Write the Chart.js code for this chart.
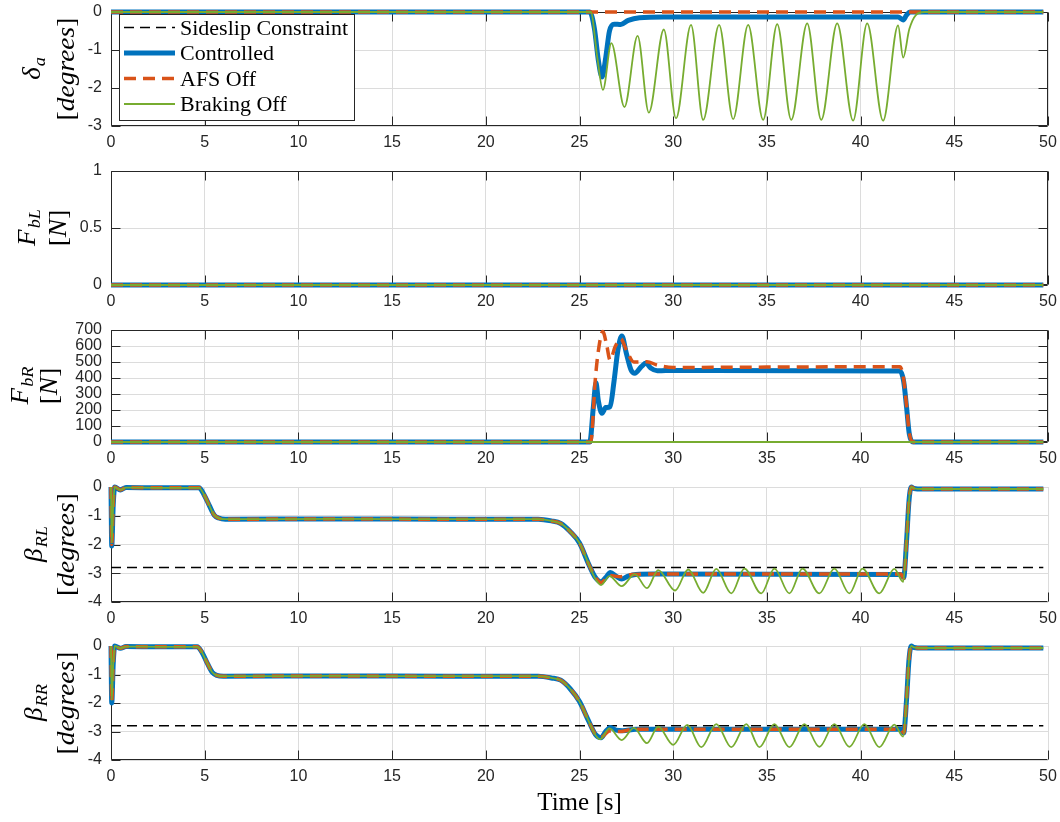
<!DOCTYPE html>
<html><head><meta charset="utf-8">
<script src="https://cdn.jsdelivr.net/npm/chart.js@4.4.1/dist/chart.umd.min.js"></script>
<style>
html,body{margin:0;padding:0;background:#fff;}
#wrap{position:relative;width:1060px;height:822px;overflow:hidden;background:#fff}
canvas{position:absolute;left:0}
</style></head><body><div id="wrap">
<canvas id="c1" width="1060" height="157" style="top:2px"></canvas>
<canvas id="c2" width="1060" height="157" style="top:161px"></canvas>
<canvas id="c3" width="1060" height="155" style="top:320px"></canvas>
<canvas id="c4" width="1060" height="158" style="top:477px"></canvas>
<canvas id="c5" width="1060" height="186" style="top:636px"></canvas>
</div>
<script>
// ---------- tick values ----------
const xTicks = [0,5,10,15,20,25,30,35,40,45,50];
const yTicksDelta = [-3,-2,-1,0];
const yTicksFbL = [0,0.5,1];
const yTicksFbR = [0,100,200,300,400,500,600,700];
const yTicksBeta = [-4,-3,-2,-1,0];

// ---------- series labels ----------
const seriesLabels = ['Sideslip Constraint','Controlled','AFS Off','Braking Off'];

// ---------- subplot 1: delta_a [degrees] ----------
const tDeltaCtrl = [0,25.55,25.8,26.0,26.2,26.4,26.6,26.85,27.2,27.6,28.2,29.5,42.0,42.27,42.45,42.65,49.75];
const deltaCtrl  = [0,0,-0.45,-1.25,-1.71,-1.2,-0.5,-0.32,-0.33,-0.22,-0.15,-0.13,-0.13,-0.21,-0.08,0,0];
const tDeltaAfs = [0,49.75];
const deltaAfs  = [0,0];
const tDeltaBrk = [0,25.6,25.95,26.25,26.7,27.4,28.1,28.7,29.5,30.15,30.95,31.6,32.45,33.2,34.0,34.8,35.55,36.3,37.15,37.9,38.75,39.6,40.35,41.2,42.0,42.27,42.6,42.95,43.4,49.75];
const deltaBrk  = [0,0,-1.2,-2.05,-0.82,-2.5,-0.63,-2.65,-0.46,-2.8,-0.34,-2.84,-0.34,-2.82,-0.34,-2.84,-0.32,-2.84,-0.3,-2.84,-0.3,-2.86,-0.3,-2.86,-0.35,-1.2,-0.45,-0.08,0,0];

// ---------- subplot 2: F_bL [N] ----------
const tFbL = [0,49.75];
const fbLCtrl = [0,0];
const fbLAfs  = [0,0];
const fbLBrk  = [0,0];

// ---------- subplot 3: F_bR [N] ----------
const tFbRCtrl = [0,25.55,25.74,25.88,26.0,26.2,26.4,26.63,26.85,27.05,27.26,27.5,27.75,27.95,28.3,28.55,28.8,29.15,29.6,42.1,42.3,42.45,42.6,42.8,49.75];
const fbRCtrl  = [0,0,220,370,262,180,215,220,387,575,662,554,450,430,471,493,462,445,447,443,377,220,50,0,0];
const tFbRAfs = [0,25.6,25.84,26.0,26.24,26.45,26.63,26.9,27.2,27.5,27.9,28.6,29.15,30.0,35.0,42.1,42.3,42.45,42.6,42.8,49.75];
const fbRAfs  = [0,0,387,564,690,606,512,595,645,575,500,502,481,466,468,471,390,230,55,0,0];
const tFbRBrk = [0,49.75];
const fbRBrk  = [0,0];

// ---------- subplot 4: beta_RL [degrees] ----------
const tBetaRLCtrl = [0,0.04,0.12,0.2,0.5,0.8,2.5,4.7,4.95,5.25,5.5,5.75,6.1,12,18,22.8,23.5,24.0,24.5,25.0,25.5,25.85,26.15,26.4,26.65,26.95,27.25,27.6,28.0,29.0,42.15,42.3,42.45,42.58,42.7,42.85,43.3,49.75];
const betaRLCtrl  = [0,-2.05,-0.6,0,-0.1,-0.02,-0.03,-0.03,-0.25,-0.65,-0.97,-1.08,-1.12,-1.11,-1.12,-1.12,-1.18,-1.27,-1.55,-1.95,-2.7,-3.15,-3.3,-3.15,-2.97,-3.1,-3.2,-3.1,-3.04,-3.03,-3.04,-3.15,-1.9,-0.5,0,-0.05,-0.07,-0.07];
const tBetaRLAfs = [0,0.04,0.12,0.2,0.5,0.8,2.5,4.7,4.95,5.25,5.5,5.75,6.1,12,18,22.8,23.5,24.0,24.5,25.0,25.5,25.85,26.15,26.6,27.2,27.8,29.0,42.15,42.3,42.45,42.58,42.7,42.85,43.3,49.75];
const betaRLAfs  = [0,-2.0,-0.6,0,-0.1,-0.02,-0.03,-0.03,-0.25,-0.65,-0.97,-1.08,-1.12,-1.11,-1.12,-1.12,-1.18,-1.27,-1.55,-1.95,-2.7,-3.15,-3.32,-3.08,-3.12,-3.04,-3.03,-3.03,-3.18,-1.9,-0.5,0,-0.05,-0.07,-0.07];
const tBetaRLBrk = [0,0.04,0.12,0.2,0.5,0.8,2.5,4.7,4.95,5.25,5.5,5.75,6.1,12,18,22.8,23.5,24.0,24.5,25.0,25.5,25.85,26.15,26.6,27.25,27.95,28.6,29.2,30.1,30.8,31.6,32.3,33.1,33.8,34.7,35.4,36.2,36.9,37.8,38.6,39.4,40.1,41.0,41.8,42.27,42.45,42.58,42.7,42.85,43.3,49.75];
const betaRLBrk  = [0,-1.95,-0.6,0,-0.1,-0.02,-0.03,-0.03,-0.25,-0.65,-0.97,-1.08,-1.12,-1.11,-1.12,-1.12,-1.18,-1.27,-1.55,-1.95,-2.7,-3.2,-3.41,-3.1,-3.45,-3.03,-3.52,-2.89,-3.6,-2.87,-3.68,-2.85,-3.7,-2.84,-3.7,-2.84,-3.7,-2.84,-3.7,-2.84,-3.7,-2.84,-3.7,-2.85,-3.3,-1.9,-0.5,0,-0.05,-0.07,-0.07];

// ---------- subplot 5: beta_RR [degrees] ----------
const tBetaRRCtrl = [0,0.04,0.12,0.2,0.5,0.8,2.5,4.6,4.85,5.15,5.4,5.65,6.0,12,18,22.8,23.5,24.0,24.5,25.0,25.5,25.85,26.15,26.4,26.65,26.95,27.3,28.0,29.0,42.15,42.3,42.45,42.58,42.7,42.85,43.3,49.75];
const betaRRCtrl  = [0,-2.0,-0.6,0,-0.08,-0.02,-0.03,-0.03,-0.22,-0.62,-0.92,-1.03,-1.06,-1.05,-1.06,-1.06,-1.12,-1.2,-1.5,-1.95,-2.65,-3.1,-3.22,-3.0,-2.86,-2.95,-2.97,-2.92,-2.92,-2.92,-3.05,-1.9,-0.5,0,-0.05,-0.07,-0.07];
const tBetaRRAfs = [0,0.04,0.12,0.2,0.5,0.8,2.5,4.6,4.85,5.15,5.4,5.65,6.0,12,18,22.8,23.5,24.0,24.5,25.0,25.5,25.85,26.15,26.6,27.2,27.8,29.0,42.15,42.3,42.45,42.58,42.7,42.85,43.3,49.75];
const betaRRAfs  = [0,-1.95,-0.6,0,-0.08,-0.02,-0.03,-0.03,-0.22,-0.62,-0.92,-1.03,-1.06,-1.05,-1.06,-1.06,-1.12,-1.2,-1.5,-1.95,-2.65,-3.1,-3.2,-2.98,-3.0,-2.93,-2.92,-2.92,-3.05,-1.9,-0.5,0,-0.05,-0.07,-0.07];
const tBetaRRBrk = [0,0.04,0.12,0.2,0.5,0.8,2.5,4.6,4.85,5.15,5.4,5.65,6.0,12,18,22.8,23.5,24.0,24.5,25.0,25.5,25.85,26.1,26.6,27.25,27.9,28.6,29.2,30.0,30.75,31.5,32.3,33.1,33.9,34.6,35.4,36.2,37.0,37.8,38.6,39.4,40.2,41.0,41.8,42.27,42.45,42.58,42.7,42.85,43.3,49.75];
const betaRRBrk  = [0,-1.9,-0.6,0,-0.08,-0.02,-0.03,-0.03,-0.22,-0.62,-0.92,-1.03,-1.06,-1.05,-1.06,-1.06,-1.12,-1.2,-1.5,-1.95,-2.65,-3.12,-3.27,-2.89,-3.3,-2.87,-3.41,-2.83,-3.47,-2.77,-3.55,-2.74,-3.55,-2.74,-3.55,-2.74,-3.55,-2.74,-3.54,-2.74,-3.54,-2.74,-3.55,-2.76,-3.18,-1.9,-0.5,0,-0.05,-0.07,-0.07];

// ---------- sideslip constraint ----------
const tConstraint = [0,49.75];
const betaConstraint = [-2.8,-2.8];

// ---------- styles ----------
const STY = {
  cons: {color:'#000000', width:1.6, dash:[10,6]},
  ctrl: {color:'#0072BD', width:5, dash:[]},
  afs:  {color:'#D95319', width:3.5, dash:[12,7]},
  brk:  {color:'#77AC30', width:1.8, dash:[]}
};
const GRID = '#dcdcdc';
const AX = '#262626';

function pts(t, v){ return t.map((x,i)=>({x:x, y:v[i]})); }
function ds(key, label, t, v, order){
  const s = STY[key];
  return {label:label, data:pts(t,v), borderColor:s.color, borderWidth:s.width, borderDash:s.dash,
    pointRadius:0, cubicInterpolationMode:'monotone', fill:false, order:order, clip:4,
    borderCapStyle:'butt', borderJoinStyle:'round'};
}

// ---------- plugins ----------
const deco = {
  id:'deco',
  beforeDatasetsDraw(chart, args, o){
    const ctx = chart.ctx, a = chart.chartArea, xs = chart.scales.x, ys = chart.scales.y;
    const L = Math.round(a.left)+0.5, R = Math.round(a.right)-0.5, T = Math.round(a.top)+0.5, B = Math.round(a.bottom)-0.5;
    ctx.save();
    ctx.strokeStyle = AX; ctx.lineWidth = 1;
    ctx.beginPath();
    if (o.box){ ctx.rect(L, T, R-L, B-T); }
    else { ctx.moveTo(L, T); ctx.lineTo(L, B); ctx.lineTo(R, B); }
    const tl = 9;
    xTicks.forEach(v=>{
      const px = Math.round(xs.getPixelForValue(v)) + 0.5;
      ctx.moveTo(px, B); ctx.lineTo(px, B - tl);
      if (o.box){ ctx.moveTo(px, T); ctx.lineTo(px, T + tl); }
    });
    ys.ticks.forEach(t=>{
      const py = Math.round(ys.getPixelForValue(t.value)) + 0.5;
      ctx.moveTo(L, py); ctx.lineTo(L + tl, py);
      if (o.box){ ctx.moveTo(R, py); ctx.lineTo(R - tl, py); }
    });
    ctx.stroke();
    ctx.restore();
  }
};

const ylab = {
  id:'ylab',
  afterDraw(chart, args, o){
    const ctx = chart.ctx, a = chart.chartArea;
    const cy = (a.top + a.bottom)/2;
    const FAM = '"Liberation Serif", "Times New Roman", serif';
    ctx.save();
    ctx.fillStyle = '#000';
    ctx.textBaseline = 'alphabetic'; ctx.textAlign = 'left';
    // line 1: symbol with subscript
    ctx.save();
    ctx.translate(o.x1, cy); ctx.rotate(-Math.PI/2); ctx.scale(1.08, 1);
    const fM = 'italic 25px ' + FAM, fS = 'italic 17px ' + FAM;
    ctx.font = fM; const wm = ctx.measureText(o.main).width;
    ctx.font = fS; const ws = ctx.measureText(o.sub).width;
    const x0 = -(wm + ws)/2;
    ctx.font = fM; ctx.fillText(o.main, x0, 0);
    ctx.font = fS; ctx.fillText(o.sub, x0 + wm + 1, 5);
    ctx.restore();
    // line 2: [unit]
    ctx.save();
    ctx.translate(o.x2, cy); ctx.rotate(-Math.PI/2); ctx.scale(1.1, 1);
    const parts = [['[', false], [o.unit, true], [']', false]];
    let tot = 0; const ws2 = [];
    parts.forEach(p=>{ ctx.font = (p[1]?'italic ':'') + '25px ' + FAM; const w = ctx.measureText(p[0]).width; ws2.push(w); tot += w; });
    let x = -tot/2;
    parts.forEach((p,i)=>{ ctx.font = (p[1]?'italic ':'') + '25px ' + FAM; ctx.fillText(p[0], x, 0); x += ws2[i]; });
    ctx.restore();
    ctx.restore();
  }
};

const mlegend = {
  id:'mlegend',
  afterDatasetsDraw(chart, args, o){
    if (!o.show) return;
    const ctx = chart.ctx;
    const bx = 119.5, by = 12.5, bw = 235, bh = 106;
    ctx.save();
    ctx.fillStyle = '#fff'; ctx.fillRect(bx, by, bw, bh);
    ctx.strokeStyle = AX; ctx.lineWidth = 1; ctx.strokeRect(bx, by, bw, bh);
    const keys = ['cons','ctrl','afs','brk'];
    const rows = [25.5, 51, 76.5, 102];
    keys.forEach((k,i)=>{
      const s = STY[k];
      ctx.beginPath();
      ctx.strokeStyle = s.color; ctx.lineWidth = s.width; ctx.setLineDash(s.dash); ctx.lineCap = 'butt';
      ctx.moveTo(124, rows[i]); ctx.lineTo(175, rows[i]); ctx.stroke();
      ctx.setLineDash([]);
      ctx.save();
      ctx.translate(180, rows[i] + 7);
      ctx.scale(1.1, 1);
      ctx.font = '20px "Liberation Serif", serif';
      ctx.fillStyle = '#000'; ctx.textBaseline = 'alphabetic'; ctx.textAlign = 'left';
      ctx.fillText(seriesLabels[i], 0, 0);
      ctx.restore();
    });
    ctx.restore();
  }
};

function makeChart(id, cfg){
  return new Chart(document.getElementById(id), {
    type:'line',
    data:{datasets:cfg.datasets},
    plugins:[deco, ylab, mlegend],
    options:{
      responsive:false, animation:false, devicePixelRatio:1,
      layout:{padding:{left:0, right:12, top:10, bottom:0}},
      plugins:{
        legend:{display:false}, tooltip:{enabled:false},
        deco:{box:cfg.box}, ylab:cfg.ylab, mlegend:{show:!!cfg.legend}
      },
      scales:{
        x:{type:'linear', min:0, max:50,
           afterBuildTicks:s=>{ s.ticks = xTicks.map(v=>({value:v})); },
           afterFit:s=>{ s.height = cfg.xAxisH; s.paddingLeft = 0; s.paddingRight = 0; },
           grid:{color:GRID, drawTicks:false, lineWidth:1},
           border:{display:false},
           ticks:{font:{family:'"Liberation Sans", Arial, sans-serif', size:16}, color:AX, padding:7, maxRotation:0, autoSkip:false, callback:v=>String(v)},
           title:cfg.xTitle ? {display:true, text:cfg.xTitle, font:{family:'"Liberation Serif", serif', size:25}, color:'#000', padding:{top:0, bottom:4}} : {display:false}
        },
        y:{type:'linear', min:cfg.yMin, max:cfg.yMax,
           afterBuildTicks:s=>{ s.ticks = cfg.yTicks.map(v=>({value:v})); },
           afterFit:s=>{ s.width = 111; s.paddingTop = 0; s.paddingBottom = 0; },
           grid:{color:GRID, drawTicks:false, lineWidth:1},
           border:{display:false},
           ticks:{font:{family:'"Liberation Sans", Arial, sans-serif', size:16}, color:AX, padding:9, autoSkip:false, callback:v=>String(v)}
        }
      }
    }
  });
}

makeChart('c1', {
  datasets:[
    ds('brk', seriesLabels[3], tDeltaBrk, deltaBrk, 0),
    ds('afs', seriesLabels[2], tDeltaAfs, deltaAfs, 1),
    ds('ctrl', seriesLabels[1], tDeltaCtrl, deltaCtrl, 2)
  ],
  yMin:-3, yMax:0, yTicks:yTicksDelta, box:true, legend:true, xAxisH:33,
  ylab:{main:'δ', sub:'a', unit:'degrees', x1:40, x2:74}
});
makeChart('c2', {
  datasets:[
    ds('brk', seriesLabels[3], tFbL, fbLBrk, 0),
    ds('afs', seriesLabels[2], tFbL, fbLAfs, 1),
    ds('ctrl', seriesLabels[1], tFbL, fbLCtrl, 2)
  ],
  yMin:0, yMax:1, yTicks:yTicksFbL, box:true, xAxisH:33,
  ylab:{main:'F', sub:'bL', unit:'N', x1:35, x2:66}
});
makeChart('c3', {
  datasets:[
    ds('brk', seriesLabels[3], tFbRBrk, fbRBrk, 0),
    ds('afs', seriesLabels[2], tFbRAfs, fbRAfs, 1),
    ds('ctrl', seriesLabels[1], tFbRCtrl, fbRCtrl, 2)
  ],
  yMin:0, yMax:700, yTicks:yTicksFbR, box:true, xAxisH:33,
  ylab:{main:'F', sub:'bR', unit:'N', x1:28, x2:57}
});
makeChart('c4', {
  datasets:[
    ds('brk', seriesLabels[3], tBetaRLBrk, betaRLBrk, 0),
    ds('afs', seriesLabels[2], tBetaRLAfs, betaRLAfs, 1),
    ds('ctrl', seriesLabels[1], tBetaRLCtrl, betaRLCtrl, 2),
    ds('cons', seriesLabels[0], tConstraint, betaConstraint, 3)
  ],
  yMin:-4, yMax:0, yTicks:yTicksBeta, box:false, xAxisH:33,
  ylab:{main:'β', sub:'RL', unit:'degrees', x1:42, x2:74}
});
makeChart('c5', {
  datasets:[
    ds('brk', seriesLabels[3], tBetaRRBrk, betaRRBrk, 0),
    ds('afs', seriesLabels[2], tBetaRRAfs, betaRRAfs, 1),
    ds('ctrl', seriesLabels[1], tBetaRRCtrl, betaRRCtrl, 2),
    ds('cons', seriesLabels[0], tConstraint, betaConstraint, 3)
  ],
  yMin:-4, yMax:0, yTicks:yTicksBeta, box:false, xAxisH:62, xTitle:'Time [s]',
  ylab:{main:'β', sub:'RR', unit:'degrees', x1:42, x2:74}
});
</script></body></html>
